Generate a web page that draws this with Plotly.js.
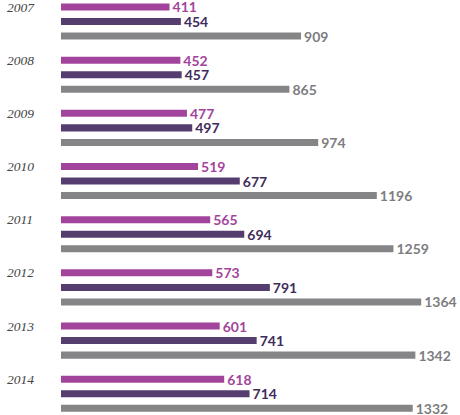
<!DOCTYPE html>
<html>
<head>
<meta charset="utf-8">
<script src="https://cdn.plot.ly/plotly-3.0.1.min.js"></script>
<style>html,body{margin:0;padding:0;background:#fff}#chart{width:460px;height:415px}</style>
</head>
<body>
<div id="chart"></div>
<script>
var years = ['2007','2008','2009','2010','2011','2012','2013','2014'];
var seriesA = [411, 452, 477, 519, 565, 573, 601, 618];
var seriesB = [454, 457, 497, 677, 694, 791, 741, 714];
var seriesC = [909, 865, 974, 1196, 1259, 1364, 1342, 1332];

var colA = '#a3449c', colB = '#553d70', colC = '#858587';
var txtA = '#a3449c', txtB = '#3e2c5a', txtC = '#7d7d80';

function mk(vals, col, tcol) {
  return {
    type: 'bar', orientation: 'h', y: years, x: vals,
    marker: {color: col},
    text: vals.map(String), textposition: 'outside', constraintext: 'none',
    cliponaxis: false,
    textfont: {family: 'Lato, sans-serif', size: 14, color: tcol, weight: 'bold'},
    hoverinfo: 'none', showlegend: false
  };
}
var data = [mk(seriesA, colA, txtA), mk(seriesB, colB, txtB), mk(seriesC, colC, txtC)];

var annotations = years.map(function (y, i) {
  return {
    xref: 'paper', yref: 'y', x: -56/399, y: i, yshift: 14.5,
    xanchor: 'left', yanchor: 'middle', showarrow: false, text: '<i>' + y + '</i>',
    font: {family: 'Liberation Serif, serif', size: 13.5, color: '#444'}
  };
});

var layout = {
  width: 460, height: 415,
  margin: {l: 61, r: 0, t: 0, b: 0},
  paper_bgcolor: '#fff', plot_bgcolor: '#fff',
  barmode: 'group', bargap: 0.179, bargroupgap: 0.517,
  xaxis: {range: [0, 1511], visible: false, fixedrange: true},
  yaxis: {type: 'category', range: [7.4, -0.405], visible: false, fixedrange: true},
  annotations: annotations,
  showlegend: false
};
Plotly.newPlot('chart', data, layout, {staticPlot: true});
</script>
</body>
</html>
